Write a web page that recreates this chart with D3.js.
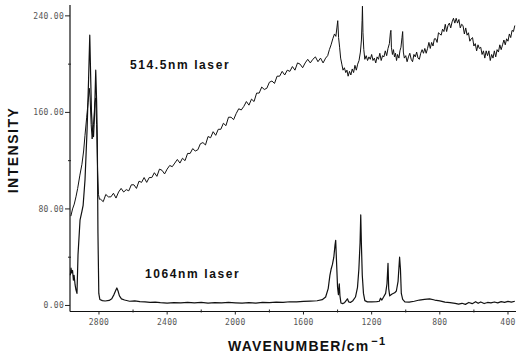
<!DOCTYPE html>
<html>
<head>
<meta charset="utf-8">
<script src="https://cdn.jsdelivr.net/npm/d3@7"></script>
<style>
  body { margin: 0; background: #fff; }
  svg { display: block; }
</style>
</head>
<body>
<svg id="chart" width="517" height="355"></svg>
<script>
// tick labels
const yTicks = [0, 80, 160, 240];
const yMinor = [40, 120, 200];
const xTicks = [2800, 2400, 2000, 1600, 1200, 800, 400];
const xMinor = [2600, 2200, 1800, 1400, 1000, 600];

// series labels
const seriesNames = ["514.5nm laser", "1064nm laser"];

// 514.5 nm spectrum: [wavenumber, intensity]
const visSpectrum = [
  [2965,74],[2955,80],[2945,84],[2935,90],[2925,97],[2912,108],[2900,117],[2890,128],
  [2882,141],[2872,156],[2864,168],[2857,180],[2852,172],[2846,150],[2840,138],[2832,150],
  [2824,168],[2819,172],[2814,150],[2808,112],[2803,92],[2797,88],
  [2790,88],[2775,86],[2760,92],[2745,90],[2730,90],[2715,93],[2700,89],[2685,94],[2670,97],
  [2655,94],[2640,96],[2625,95],[2610,100],[2595,100],[2580,97],[2565,103],[2550,102],
  [2535,106],[2520,102],[2505,106],[2490,106],[2475,110],[2460,107],[2445,113],[2430,112],
  [2415,109],[2400,113],[2385,116],[2370,115],[2355,118],[2340,121],[2325,118],[2310,122],
  [2295,120],[2280,126],[2265,126],[2250,130],[2235,128],[2220,129],[2205,134],[2190,135],
  [2175,133],[2160,140],[2145,139],[2130,144],[2115,141],[2100,146],[2085,146],[2070,151],
  [2055,149],[2040,156],[2025,156],[2010,154],[1995,159],[1980,163],[1965,162],[1950,165],
  [1935,169],[1920,166],[1905,171],[1890,169],[1875,176],[1860,176],[1845,181],[1830,179],
  [1815,180],[1800,185],[1785,186],[1770,184],[1755,190],[1740,190],[1725,194],[1710,191],
  [1695,195],[1680,194],[1665,198],[1650,195],[1635,201],[1620,200],[1605,197],[1590,201],
  [1575,204],[1560,201],[1545,204],[1530,206],[1515,202],[1500,205],[1485,201],[1470,205],
  [1458,207],[1448,212],[1438,216],[1428,221],[1418,225],[1410,223],[1404,230],[1399,236],
  [1394,222],[1388,214],[1382,205],[1375,200],[1368,195],[1360,197],[1352,193],[1345,195],
  [1338,190],[1330,194],[1322,191],[1314,196],[1306,193],[1298,199],[1290,195],[1282,200],
  [1274,203],[1266,210],[1260,220],[1256,236],[1254,248],[1251,226],[1246,212],[1240,204],
  [1232,207],[1224,203],[1216,206],[1208,204],[1200,208],[1192,203],[1184,205],[1176,201],
  [1168,206],[1160,204],[1152,209],[1144,203],[1136,207],[1128,206],[1120,211],[1112,207],
  [1104,213],[1096,217],[1090,226],[1087,228],[1084,214],[1078,208],[1072,212],[1066,206],
  [1060,209],[1054,203],[1048,208],[1040,205],[1034,211],[1028,214],[1022,222],[1018,227],
  [1014,210],[1008,205],[1000,207],[992,202],[984,206],[976,209],[968,204],[960,202],
  [952,208],[944,206],[936,210],[928,205],[920,204],[912,209],[904,212],[896,209],[888,213],
  [880,209],[872,213],[864,218],[856,213],[848,218],[840,215],[832,221],[824,221],[816,218],
  [808,226],[800,225],[792,224],[784,229],[776,227],[768,233],[760,227],[752,232],[744,234],
  [736,230],[728,235],[720,238],[712,234],[704,238],[696,234],[688,237],[680,230],[672,233],
  [664,232],[656,225],[648,230],[640,224],[632,226],[624,219],[616,221],[608,222],[600,215],
  [592,217],[584,211],[576,216],[568,213],[560,214],[552,208],[544,211],[536,205],[528,211],
  [520,207],[512,211],[504,203],[496,208],[488,205],[480,211],[472,206],[464,212],[456,210],
  [448,216],[440,212],[432,216],[424,220],[416,216],[408,221],[400,219],[392,225],[384,222],
  [376,228],[368,227],[360,232]
];

// 1064 nm spectrum
const nirSpectrum = [
  [2968,25],[2964,31],[2960,27],[2955,29],[2950,21],[2946,25],[2940,17],[2935,13],[2929,10],
  [2923,42],[2911,71],[2900,78],[2893,83],[2882,104],[2870,145],[2861,187],[2854,224],
  [2848,185],[2844,160],[2838,145],[2832,140],[2826,158],[2819,195],[2814,170],[2810,140],
  [2806,60],[2801,10],[2795,5],[2780,4],[2764,3.7],[2740,4.2],[2725,5.5],[2712,9],[2700,13],
  [2695,14.5],[2688,12],[2680,8],[2668,5.5],[2650,4.5],[2620,3.5],[2590,3.8],[2560,3.2],
  [2530,3],[2500,2.6],[2470,2.8],[2440,2.3],[2400,2.0],[2360,2.4],[2320,2.1],[2280,2.6],
  [2240,2.2],[2200,2.5],[2160,2.0],[2120,2.3],[2080,2.1],[2040,2.6],[2000,2.2],[1960,1.9],
  [1920,2.3],[1880,2.0],[1840,2.5],[1800,2.4],[1760,2.8],[1720,2.6],[1680,3.1],[1640,3.0],
  [1600,3.4],[1560,3.6],[1520,3.9],[1490,4.8],[1470,7],[1455,14],[1445,25],[1438,30],
  [1430,34],[1422,40],[1415,50],[1411,54],[1406,36],[1400,15],[1395,9],[1390,18],[1386,8],
  [1380,2],[1370,1.5],[1360,2.2],[1350,4],[1342,5.5],[1335,3],[1325,2.5],[1310,4],[1295,7],
  [1283,15],[1275,30],[1268,52],[1264,75],[1260,50],[1255,25],[1248,10],[1240,4],[1225,3],
  [1200,3],[1170,3.2],[1155,3.5],[1148,6],[1140,4.5],[1130,7],[1118,10],[1110,18],[1104,35],
  [1100,14],[1094,8],[1080,9.5],[1065,10.5],[1055,12],[1045,20],[1036,40],[1031,30],
  [1026,10],[1018,5],[1005,3],[980,2.8],[950,3.5],[920,4.5],[890,5],[860,5.5],[830,4.5],
  [800,3.8],[770,2.8],[740,2.4],[710,1.8],[690,1.1],[670,1.8],[650,0.9],[630,2.5],[610,1.5],
  [590,3.1],[575,1.8],[560,2.9],[540,1.6],[520,2.5],[500,2.1],[480,2.9],[460,2.2],[440,3.2],
  [420,2.6],[400,3.4],[380,2.8],[360,3.5]
];

const svg = d3.select("#chart");
const m = { left: 70, right: 516, top: 5, bottom: 311.5 };

const x = d3.scaleLinear().domain([2970, 353]).range([m.left, m.right]);
const y = d3.scaleLinear().domain([-5, 249]).range([m.bottom, m.top]);

const line = d3.line()
  .x(d => x(d[0]))
  .y(d => y(d[1]));

const tickFont = "'DejaVu Sans Mono', monospace";
const labelFont = "'Liberation Sans', Arial, sans-serif";

// axes lines
svg.append("line")
  .attr("x1", m.left).attr("x2", m.left)
  .attr("y1", m.top).attr("y2", m.bottom)
  .attr("stroke", "#111").attr("stroke-width", 1.2);
svg.append("line")
  .attr("x1", m.left).attr("x2", m.right)
  .attr("y1", m.bottom).attr("y2", m.bottom)
  .attr("stroke", "#111").attr("stroke-width", 1.2);

// y ticks
const yg = svg.append("g");
yg.selectAll("line.major").data(yTicks).join("line")
  .attr("class", "major")
  .attr("x1", m.left - 5).attr("x2", m.left)
  .attr("y1", d => y(d)).attr("y2", d => y(d))
  .attr("stroke", "#222").attr("stroke-width", 1);
yg.selectAll("line.minor").data(yMinor).join("line")
  .attr("class", "minor")
  .attr("x1", m.left - 2).attr("x2", m.left + 1)
  .attr("y1", d => y(d)).attr("y2", d => y(d))
  .attr("stroke", "#222").attr("stroke-width", 1);
yg.selectAll("text").data(yTicks).join("text")
  .attr("x", m.left - 6)
  .attr("y", d => y(d))
  .attr("dy", "0.35em")
  .attr("text-anchor", "end")
  .attr("font-family", tickFont)
  .attr("font-size", 8)
  .attr("letter-spacing", 0.3)
  .attr("fill", "#555")
  .text(d => d3.format(".2f")(d));

// x ticks
const xg = svg.append("g");
xg.selectAll("line.major").data(xTicks).join("line")
  .attr("class", "major")
  .attr("x1", d => x(d)).attr("x2", d => x(d))
  .attr("y1", m.bottom).attr("y2", m.bottom + 3)
  .attr("stroke", "#222").attr("stroke-width", 1);
xg.selectAll("line.minor").data(xMinor).join("line")
  .attr("class", "minor")
  .attr("x1", d => x(d)).attr("x2", d => x(d))
  .attr("y1", m.bottom - 2).attr("y2", m.bottom + 1)
  .attr("stroke", "#222").attr("stroke-width", 1);
xg.selectAll("text").data(xTicks).join("text")
  .attr("x", d => x(d))
  .attr("y", m.bottom + 13)
  .attr("text-anchor", "middle")
  .attr("font-family", tickFont)
  .attr("font-size", 8)
  .attr("letter-spacing", 0.3)
  .attr("fill", "#555")
  .text(d => d);

// spectra
svg.append("path")
  .datum(visSpectrum)
  .attr("d", line)
  .attr("fill", "none")
  .attr("stroke", "#111")
  .attr("stroke-width", 1)
  .attr("stroke-linejoin", "round");

svg.append("path")
  .datum(nirSpectrum)
  .attr("d", line)
  .attr("fill", "none")
  .attr("stroke", "#111")
  .attr("stroke-width", 1.2)
  .attr("stroke-linejoin", "round");

// series labels
svg.append("text")
  .attr("x", 130).attr("y", 69)
  .attr("font-family", labelFont).attr("font-weight", "bold")
  .attr("font-size", 12).attr("letter-spacing", 1.6)
  .attr("fill", "#111")
  .text(seriesNames[0]);
svg.append("text")
  .attr("x", 145).attr("y", 278)
  .attr("font-family", labelFont).attr("font-weight", "bold")
  .attr("font-size", 12).attr("letter-spacing", 1.6)
  .attr("fill", "#111")
  .text(seriesNames[1]);

// axis titles
svg.append("text")
  .attr("transform", "translate(18,150) rotate(-90)")
  .attr("text-anchor", "middle")
  .attr("font-family", labelFont).attr("font-weight", "bold")
  .attr("font-size", 14).attr("letter-spacing", 1.5)
  .attr("fill", "#111")
  .text("INTENSITY");

const xt = svg.append("text")
  .attr("x", 228).attr("y", 351)
  .attr("font-family", labelFont).attr("font-weight", "bold")
  .attr("font-size", 14).attr("letter-spacing", 1.2)
  .attr("fill", "#111");
xt.append("tspan").text("WAVENUMBER/cm");
xt.append("tspan")
  .attr("dx", 2).attr("dy", -6)
  .attr("font-size", 11)
  .text("\u22121");
</script>
</body>
</html>
